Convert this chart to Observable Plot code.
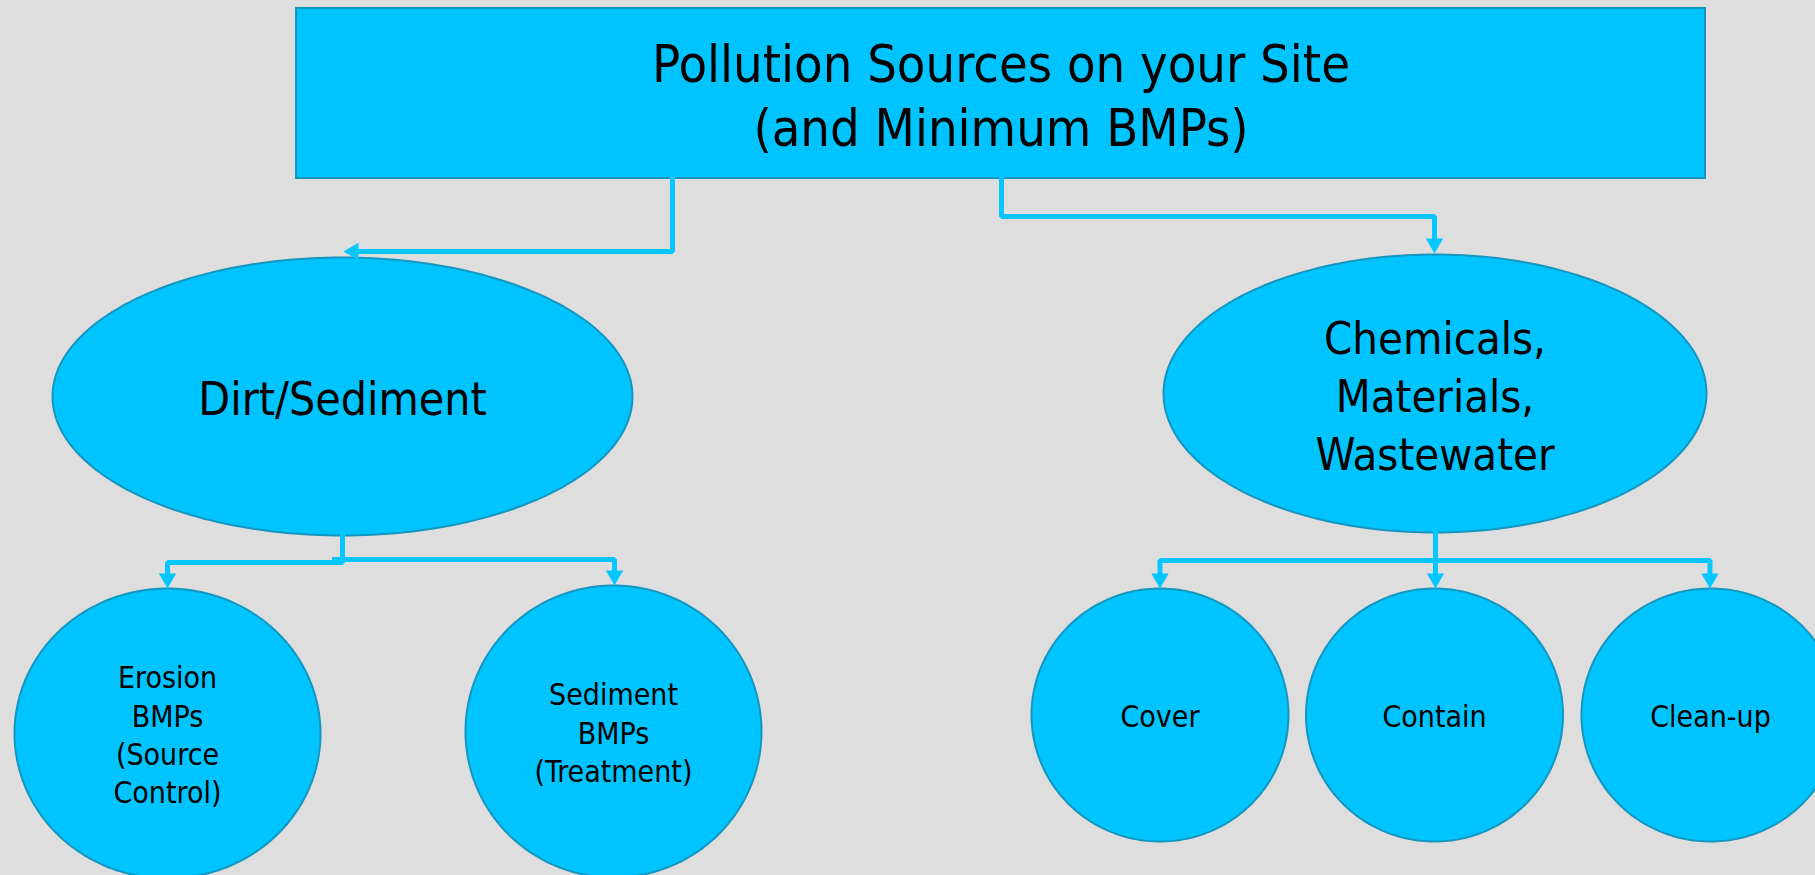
<!DOCTYPE html>
<html><head><meta charset="utf-8">
<script src="https://cdn.jsdelivr.net/npm/d3@7"></script>
<script src="https://cdn.jsdelivr.net/npm/@observablehq/plot@0.6"></script>
<style>
html,body{margin:0;padding:0;background:#dedede;overflow:hidden;}
#chart svg{display:block;}
</style></head><body><div id="chart"></div>
<script>
// ---- diagram content ----
const nodeIds = ["root", "dirt", "chem", "erosion", "sediment", "cover", "contain", "cleanup"];
const nodeLabels = [
  "Pollution Sources on your Site\n(and Minimum BMPs)",
  "Dirt/Sediment",
  "Chemicals,\nMaterials,\nWastewater",
  "Erosion\nBMPs\n(Source\nControl)",
  "Sediment\nBMPs\n(Treatment)",
  "Cover",
  "Contain",
  "Clean-up"
];
const nodeParents = [null, "root", "root", "dirt", "dirt", "chem", "chem", "chem"];
const nodeShapes = ["rect", "ellipse", "ellipse", "ellipse", "ellipse", "ellipse", "ellipse", "ellipse"];

// ---- layout (diagram units) ----
const nodeCx = [1000.5, 342, 1434.5, 167, 613, 1159.5, 1434, 1710];
const nodeCy = [93, 396, 393, 733, 731, 714.5, 714.5, 714.5];
const nodeRx = [704.5, 290, 271.5, 153, 148, 128.5, 128.5, 129];
const nodeRy = [85, 139, 139, 145, 146, 126.5, 126.5, 126.5];
const nodeFont = [52, 46, 45, 30, 30, 30, 30, 30];
const nodeLineHeight = [1.23, 1.25, 1.28, 1.28, 1.28, 1.28, 1.28, 1.28];

// connector routes: [edge, x, y] waypoints; last point is the arrow tip
const routeEdge = ["root-dirt","root-dirt","root-dirt",
  "root-chem","root-chem","root-chem","root-chem",
  "dirt-erosion","dirt-erosion","dirt-erosion","dirt-erosion",
  "dirt-sediment","dirt-sediment","dirt-sediment",
  "chem-cover","chem-cover","chem-cover","chem-cover",
  "chem-contain","chem-contain",
  "chem-cleanup","chem-cleanup","chem-cleanup"];
const routeX = [672, 672, 343,
  1001, 1001, 1434, 1434,
  342, 342, 167, 167,
  334, 614, 614,
  1435, 1435, 1159.5, 1159.5,
  1435, 1435,
  1435, 1709.5, 1709.5];
const routeY = [178, 251, 251,
  178, 216, 216, 253,
  534, 562, 562, 588,
  559, 559, 585,
  531, 560, 560, 588,
  531, 588,
  560, 560, 588];

// ---- styles ----
const BG = "#dedede";
const FILL = "#00c4ff";
const OUTLINE = "#1496bf";
const LINK = "#05c6ff";
const FONT = "'DejaVu Sans Condensed', 'Liberation Sans', sans-serif";
const W = 1815, H = 875;
const HEAD = 15; // arrow head length

const nodes = nodeIds.map((id, i) => ({
  id, label: nodeLabels[i], parent: nodeParents[i], shape: nodeShapes[i],
  cx: nodeCx[i], cy: nodeCy[i], rx: nodeRx[i], ry: nodeRy[i],
  font: nodeFont[i], lh: nodeLineHeight[i]
}));

// ellipse outlines
const ellipsePts = [];
nodes.filter(d => d.shape === "ellipse").forEach(d => {
  const n = 240;
  for (let k = 0; k < n; k++) {
    const t = 2 * Math.PI * k / n;
    ellipsePts.push({id: d.id, x: d.cx + d.rx * Math.cos(t), y: d.cy + d.ry * Math.sin(t)});
  }
});

// connectors
const routes = d3.groups(routeEdge.map((e, i) => ({edge: e, x: routeX[i], y: routeY[i]})), d => d.edge);
const linkPts = [];
const heads = [];
routes.forEach(([edge, pts]) => {
  const a = pts[pts.length - 2], b = pts[pts.length - 1];
  const dx = b.x - a.x, dy = b.y - a.y, len = Math.hypot(dx, dy);
  const ux = dx / len, uy = dy / len;
  pts.forEach((p, i) => {
    if (i === pts.length - 1) linkPts.push({edge, x: p.x - ux * (HEAD - 4), y: p.y - uy * (HEAD - 4)});
    else linkPts.push({edge, x: p.x, y: p.y});
  });
  // triangle centroid is 2/3 of the height from the tip
  const angle = Math.atan2(uy, ux) * 180 / Math.PI + 90;
  heads.push({edge, x: b.x - ux * HEAD * 2 / 3, y: b.y - uy * HEAD * 2 / 3, angle});
});
const triR = Math.sqrt((Math.pow(HEAD / 3, 2) * 3 * Math.sqrt(3)) / Math.PI);

const textMarks = nodes.map(d => Plot.text([d], {
  x: "cx", y: "cy", text: "label", fontSize: d.font, lineHeight: d.lh,
  lineAnchor: "middle", textAnchor: "middle", fill: "#000", fontFamily: FONT
}));

const chart = Plot.plot({
  width: W, height: H, margin: 0,
  x: {domain: [0, W], range: [0, W], axis: null},
  y: {domain: [0, H], range: [0, H], axis: null},
  style: {background: BG, fontFamily: FONT, overflow: "hidden"},
  marks: [
    Plot.rect(nodes.filter(d => d.shape === "rect"), {
      x1: d => d.cx - d.rx, x2: d => d.cx + d.rx, y1: d => d.cy - d.ry, y2: d => d.cy + d.ry,
      fill: FILL, stroke: OUTLINE, strokeWidth: 2
    }),
    Plot.line(ellipsePts, {x: "x", y: "y", z: "id", curve: "linear-closed", fill: FILL, stroke: OUTLINE, strokeWidth: 2}),
    Plot.line(linkPts, {x: "x", y: "y", z: "edge", stroke: LINK, strokeWidth: 5, strokeLinejoin: "miter", strokeLinecap: "square", curve: "linear"}),
    Plot.dot(heads, {x: "x", y: "y", symbol: "triangle", r: triR, rotate: "angle", fill: LINK, stroke: "none"}),
    ...textMarks
  ]
});
document.getElementById("chart").appendChild(chart);
</script>
</body></html>
